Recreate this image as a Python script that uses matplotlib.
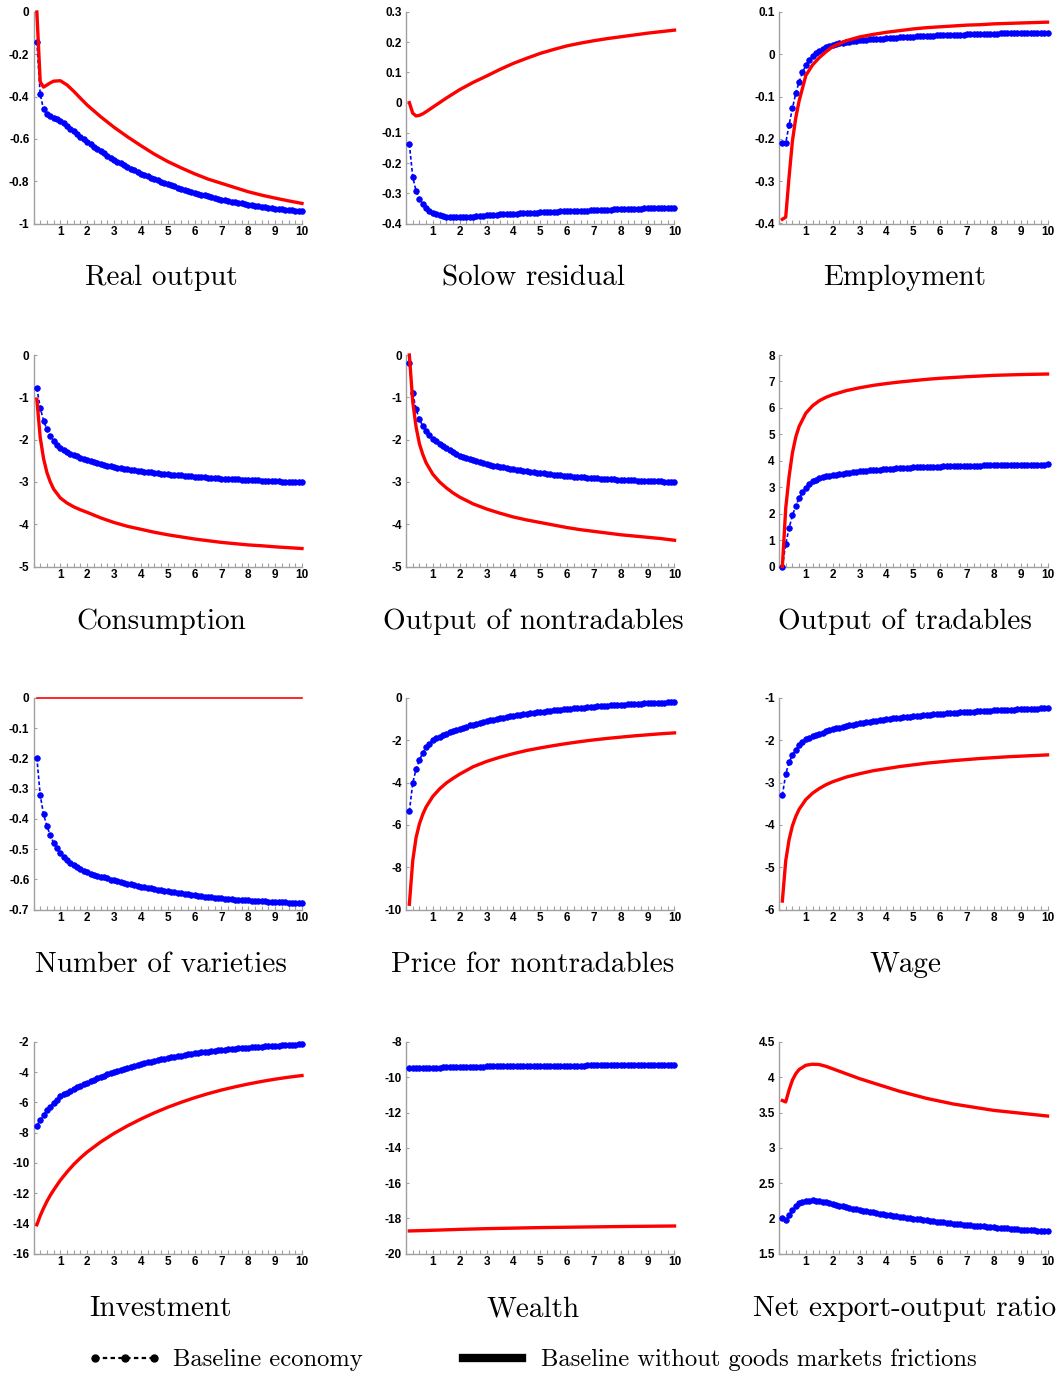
import numpy as np
import matplotlib
matplotlib.use("Agg")
import matplotlib.pyplot as plt
from matplotlib.lines import Line2D
from matplotlib.ticker import FixedLocator, MultipleLocator, FuncFormatter

# horizon in years; the baseline is reported every 1/8 year
x_base = np.arange(1, 81) / 8
x_nofric = [0.125, 0.25, 0.375, 0.5, 0.625, 0.75, 1, 1.25, 1.5, 1.75, 2, 2.5, 3, 3.5,
            4, 4.5, 5, 5.5, 6, 6.5, 7, 7.5, 8, 8.5, 9, 9.5, 10]

titles = ["Real output", "Solow residual", "Employment",
          "Consumption", "Output of nontradables", "Output of tradables",
          "Number of varieties", "Price for nontradables", "Wage",
          "Investment", "Wealth", "Net export-output ratio"]

# ---- baseline economy (blue dots) ----
base_output = [-0.14, -0.39, -0.46, -0.48, -0.49, -0.50, -0.507, -0.515,
               -0.527, -0.540, -0.552, -0.565, -0.577, -0.590, -0.602, -0.614,
               -0.626, -0.637, -0.648, -0.658, -0.669, -0.679, -0.690, -0.700,
               -0.708, -0.716, -0.724, -0.733, -0.741, -0.749, -0.757, -0.765,
               -0.771, -0.777, -0.784, -0.790, -0.796, -0.802, -0.809, -0.815,
               -0.820, -0.825, -0.830, -0.835, -0.840, -0.845, -0.850, -0.855,
               -0.859, -0.863, -0.867, -0.871, -0.875, -0.879, -0.883, -0.887,
               -0.890, -0.893, -0.896, -0.899, -0.902, -0.905, -0.909, -0.912,
               -0.914, -0.916, -0.919, -0.921, -0.923, -0.925, -0.928, -0.930,
               -0.932, -0.933, -0.935, -0.936, -0.938, -0.940, -0.941, -0.943]
base_solow = [-0.137, -0.245, -0.293, -0.319, -0.336, -0.349, -0.358, -0.365,
              -0.370, -0.373, -0.376, -0.378, -0.379, -0.380, -0.380, -0.380,
              -0.380, -0.379, -0.378, -0.377, -0.376, -0.375, -0.374, -0.373,
              -0.372, -0.371, -0.371, -0.370, -0.369, -0.369, -0.368, -0.367,
              -0.367, -0.366, -0.366, -0.365, -0.365, -0.364, -0.364, -0.363,
              -0.363, -0.362, -0.362, -0.361, -0.361, -0.360, -0.360, -0.359,
              -0.359, -0.359, -0.358, -0.358, -0.357, -0.357, -0.356, -0.356,
              -0.355, -0.355, -0.355, -0.354, -0.354, -0.353, -0.353, -0.353,
              -0.352, -0.352, -0.352, -0.351, -0.351, -0.351, -0.350, -0.350,
              -0.350, -0.349, -0.349, -0.349, -0.348, -0.348, -0.348, -0.348]
base_employment = [-0.210, -0.210, -0.167, -0.128, -0.092, -0.065, -0.043, -0.026,
                   -0.014, -0.005, 0.002, 0.008, 0.013, 0.017, 0.020, 0.023,
                   0.0245, 0.026, 0.0275, 0.029, 0.030, 0.031, 0.032, 0.033,
                   0.034, 0.0345, 0.035, 0.0355, 0.036, 0.0365, 0.037, 0.038,
                   0.0385, 0.039, 0.0395, 0.040, 0.0405, 0.041, 0.0415, 0.042,
                   0.0424, 0.0428, 0.0431, 0.0435, 0.0439, 0.0443, 0.0446, 0.045,
                   0.0452, 0.0455, 0.0458, 0.046, 0.0462, 0.0465, 0.0468, 0.047,
                   0.0472, 0.0475, 0.0478, 0.048, 0.0482, 0.0485, 0.0488, 0.049,
                   0.0491, 0.0493, 0.0494, 0.0495, 0.0496, 0.0497, 0.0499, 0.050,
                   0.0501, 0.0503, 0.0504, 0.0505, 0.0506, 0.0507, 0.0509, 0.051]
base_consumption = [-0.78, -1.25, -1.55, -1.76, -1.92, -2.04, -2.13, -2.21,
                    -2.255, -2.295, -2.33, -2.365, -2.395, -2.425, -2.455, -2.48,
                    -2.505, -2.53, -2.555, -2.575, -2.595, -2.615, -2.635, -2.655,
                    -2.668, -2.68, -2.692, -2.704, -2.716, -2.728, -2.739, -2.75,
                    -2.759, -2.768, -2.777, -2.786, -2.795, -2.803, -2.811, -2.82,
                    -2.827, -2.834, -2.841, -2.848, -2.855, -2.862, -2.868, -2.875,
                    -2.881, -2.887, -2.892, -2.898, -2.903, -2.909, -2.914, -2.92,
                    -2.924, -2.929, -2.933, -2.938, -2.942, -2.946, -2.951, -2.955,
                    -2.959, -2.963, -2.966, -2.970, -2.974, -2.977, -2.981, -2.985,
                    -2.988, -2.991, -2.994, -2.997, -3.000, -3.003, -3.007, -3.010]
base_nontradables = [-0.20, -0.90, -1.28, -1.52, -1.68, -1.80, -1.90, -1.98,
                     -2.04, -2.10, -2.155, -2.205, -2.25, -2.295, -2.34, -2.38,
                     -2.41, -2.44, -2.465, -2.49, -2.515, -2.54, -2.56, -2.58,
                     -2.597, -2.613, -2.628, -2.643, -2.658, -2.672, -2.686, -2.70,
                     -2.712, -2.724, -2.736, -2.747, -2.758, -2.769, -2.78, -2.79,
                     -2.799, -2.808, -2.817, -2.826, -2.835, -2.843, -2.852, -2.86,
                     -2.867, -2.873, -2.88, -2.886, -2.892, -2.898, -2.904, -2.91,
                     -2.915, -2.92, -2.925, -2.93, -2.935, -2.94, -2.945, -2.95,
                     -2.954, -2.958, -2.962, -2.966, -2.97, -2.973, -2.977, -2.98,
                     -2.983, -2.985, -2.988, -2.99, -2.993, -2.995, -2.998, -3.0]
base_tradables = [0.0, 0.85, 1.45, 1.93, 2.30, 2.58, 2.80, 2.98,
                  3.12, 3.22, 3.29, 3.34, 3.38, 3.41, 3.43, 3.45,
                  3.47, 3.49, 3.51, 3.53, 3.55, 3.565, 3.58, 3.60,
                  3.61, 3.625, 3.635, 3.645, 3.655, 3.665, 3.68, 3.69,
                  3.697, 3.704, 3.711, 3.718, 3.725, 3.731, 3.738, 3.745,
                  3.75, 3.754, 3.759, 3.763, 3.767, 3.771, 3.776, 3.78,
                  3.784, 3.788, 3.792, 3.795, 3.799, 3.802, 3.806, 3.81,
                  3.813, 3.815, 3.818, 3.82, 3.823, 3.825, 3.828, 3.83,
                  3.832, 3.834, 3.836, 3.838, 3.84, 3.842, 3.843, 3.845,
                  3.847, 3.849, 3.851, 3.853, 3.855, 3.857, 3.858, 3.86]
base_varieties = [-0.197, -0.322, -0.385, -0.424, -0.454, -0.480, -0.497, -0.513,
                  -0.526, -0.536, -0.545, -0.553, -0.560, -0.566, -0.572, -0.577,
                  -0.581, -0.585, -0.588, -0.591, -0.594, -0.597, -0.601, -0.604,
                  -0.607, -0.609, -0.612, -0.614, -0.617, -0.619, -0.622, -0.624,
                  -0.626, -0.628, -0.630, -0.632, -0.634, -0.636, -0.638, -0.640,
                  -0.642, -0.643, -0.645, -0.646, -0.648, -0.650, -0.651, -0.653,
                  -0.654, -0.656, -0.657, -0.658, -0.659, -0.661, -0.662, -0.663,
                  -0.664, -0.665, -0.666, -0.667, -0.667, -0.668, -0.669, -0.670,
                  -0.671, -0.671, -0.672, -0.673, -0.673, -0.674, -0.674, -0.675,
                  -0.675, -0.676, -0.676, -0.677, -0.677, -0.678, -0.678, -0.679]
base_price = [-5.36, -4.03, -3.36, -2.94, -2.59, -2.34, -2.16, -2.0,
              -1.91, -1.83, -1.76, -1.69, -1.62, -1.56, -1.50, -1.45,
              -1.40, -1.35, -1.30, -1.26, -1.21, -1.17, -1.12, -1.08,
              -1.05, -1.02, -0.99, -0.96, -0.93, -0.90, -0.87, -0.84,
              -0.82, -0.795, -0.77, -0.75, -0.725, -0.705, -0.68, -0.66,
              -0.642, -0.625, -0.607, -0.59, -0.572, -0.555, -0.537, -0.52,
              -0.506, -0.492, -0.479, -0.465, -0.451, -0.437, -0.424, -0.41,
              -0.399, -0.388, -0.376, -0.365, -0.354, -0.343, -0.331, -0.32,
              -0.311, -0.302, -0.294, -0.285, -0.276, -0.267, -0.259, -0.25,
              -0.243, -0.235, -0.228, -0.22, -0.213, -0.205, -0.198, -0.19]
base_wage = [-3.3, -2.8, -2.52, -2.35, -2.22, -2.12, -2.04, -1.97,
             -1.94, -1.91, -1.88, -1.85, -1.82, -1.79, -1.765, -1.74,
             -1.72, -1.70, -1.68, -1.665, -1.65, -1.635, -1.617, -1.60,
             -1.587, -1.574, -1.562, -1.55, -1.537, -1.525, -1.512, -1.50,
             -1.491, -1.482, -1.474, -1.465, -1.456, -1.447, -1.439, -1.43,
             -1.423, -1.416, -1.409, -1.402, -1.396, -1.389, -1.382, -1.375,
             -1.369, -1.364, -1.358, -1.352, -1.347, -1.341, -1.336, -1.33,
             -1.326, -1.322, -1.317, -1.313, -1.309, -1.304, -1.30, -1.295,
             -1.291, -1.287, -1.284, -1.28, -1.276, -1.272, -1.269, -1.265,
             -1.262, -1.259, -1.256, -1.253, -1.249, -1.246, -1.243, -1.24]
base_investment = [-7.55, -7.15, -6.82, -6.53, -6.27, -6.03, -5.81, -5.60,
                   -5.47, -5.35, -5.23, -5.12, -5.01, -4.90, -4.80, -4.70,
                   -4.60, -4.50, -4.41, -4.32, -4.23, -4.14, -4.06, -3.98,
                   -3.91, -3.84, -3.77, -3.70, -3.64, -3.57, -3.51, -3.45,
                   -3.40, -3.35, -3.30, -3.25, -3.20, -3.15, -3.10, -3.05,
                   -3.01, -2.97, -2.93, -2.90, -2.86, -2.82, -2.79, -2.75,
                   -2.72, -2.69, -2.66, -2.64, -2.61, -2.58, -2.56, -2.53,
                   -2.51, -2.49, -2.47, -2.45, -2.43, -2.41, -2.39, -2.37,
                   -2.355, -2.34, -2.325, -2.31, -2.295, -2.28, -2.265, -2.25,
                   -2.238, -2.225, -2.213, -2.20, -2.188, -2.175, -2.163, -2.15]
base_wealth = [-9.500, -9.495, -9.490, -9.485, -9.480, -9.475, -9.468, -9.460,
               -9.455, -9.450, -9.445, -9.440, -9.435, -9.430, -9.425, -9.420,
               -9.416, -9.412, -9.408, -9.404, -9.400, -9.397, -9.394, -9.390,
               -9.387, -9.385, -9.382, -9.380, -9.378, -9.375, -9.372, -9.370,
               -9.368, -9.365, -9.363, -9.360, -9.358, -9.355, -9.352, -9.350,
               -9.349, -9.347, -9.346, -9.345, -9.344, -9.343, -9.341, -9.340,
               -9.339, -9.337, -9.336, -9.335, -9.334, -9.333, -9.331, -9.330,
               -9.329, -9.327, -9.326, -9.325, -9.324, -9.323, -9.321, -9.320,
               -9.319, -9.317, -9.316, -9.315, -9.314, -9.313, -9.311, -9.310,
               -9.309, -9.307, -9.306, -9.305, -9.304, -9.303, -9.301, -9.300]
base_nx = [2.01, 1.97, 2.05, 2.11, 2.17, 2.21, 2.235, 2.245,
           2.25, 2.252, 2.25, 2.245, 2.237, 2.228, 2.215, 2.20,
           2.19, 2.18, 2.17, 2.158, 2.147, 2.137, 2.126, 2.115,
           2.107, 2.099, 2.091, 2.083, 2.075, 2.067, 2.058, 2.05,
           2.043, 2.036, 2.029, 2.022, 2.016, 2.009, 2.002, 1.995,
           1.989, 1.983, 1.976, 1.970, 1.964, 1.958, 1.951, 1.945,
           1.94, 1.935, 1.93, 1.925, 1.92, 1.915, 1.91, 1.905,
           1.901, 1.896, 1.892, 1.888, 1.883, 1.879, 1.874, 1.87,
           1.866, 1.862, 1.859, 1.855, 1.851, 1.847, 1.844, 1.84,
           1.837, 1.834, 1.831, 1.827, 1.824, 1.821, 1.818, 1.815]

# ---- baseline without goods markets frictions (red line) ----
nofric_output = [0.0, -0.33, -0.355, -0.345, -0.335, -0.327, -0.325, -0.345, -0.375, -0.408,
                 -0.44, -0.495, -0.545, -0.59, -0.632, -0.672, -0.707, -0.737, -0.765,
                 -0.79, -0.81, -0.83, -0.85, -0.866, -0.88, -0.893, -0.905]
nofric_solow = [0.0, -0.035, -0.044, -0.042, -0.037, -0.030, -0.015, 0.0, 0.015, 0.029,
                0.043, 0.067, 0.088, 0.11, 0.13, 0.147, 0.163, 0.176, 0.188, 0.197,
                0.205, 0.212, 0.218, 0.224, 0.23, 0.235, 0.24]
nofric_employment = [-0.390, -0.385, -0.29, -0.205, -0.150, -0.110, -0.050, -0.025, -0.008,
                     0.006, 0.018, 0.032, 0.041, 0.047, 0.052, 0.056, 0.06, 0.063, 0.065,
                     0.067, 0.069, 0.07, 0.072, 0.073, 0.074, 0.075, 0.076]
nofric_consumption = [-1.05, -1.95, -2.45, -2.78, -3.0, -3.17, -3.38, -3.50, -3.59, -3.66,
                      -3.72, -3.85, -3.96, -4.05, -4.12, -4.19, -4.25, -4.30, -4.35, -4.39,
                      -4.43, -4.46, -4.49, -4.51, -4.535, -4.555, -4.575]
nofric_nontradables = [0.0, -1.1, -1.7, -2.1, -2.35, -2.55, -2.82, -3.0, -3.14, -3.26,
                       -3.36, -3.52, -3.64, -3.74, -3.83, -3.9, -3.96, -4.02, -4.08, -4.13,
                       -4.17, -4.21, -4.25, -4.28, -4.31, -4.34, -4.38]
nofric_tradables = [0.0, 2.2, 3.4, 4.3, 4.9, 5.3, 5.8, 6.08, 6.27, 6.40, 6.5, 6.65, 6.76,
                    6.85, 6.92, 6.98, 7.03, 7.08, 7.12, 7.15, 7.18, 7.205, 7.23, 7.245,
                    7.26, 7.27, 7.28]
nofric_varieties = [0.0, 0.0, 0.0, 0.0, 0.0, 0.0, 0.0, 0.0, 0.0, 0.0, 0.0, 0.0, 0.0, 0.0,
                    0.0, 0.0, 0.0, 0.0, 0.0, 0.0, 0.0, 0.0, 0.0, 0.0, 0.0, 0.0, 0.0]
nofric_price = [-9.75, -7.7, -6.6, -5.95, -5.5, -5.15, -4.65, -4.3, -4.02, -3.8, -3.6,
                -3.25, -3.0, -2.8, -2.63, -2.48, -2.36, -2.25, -2.15, -2.06, -1.98,
                -1.91, -1.85, -1.79, -1.74, -1.69, -1.65]
nofric_wage = [-5.8, -4.85, -4.35, -4.02, -3.8, -3.63, -3.4, -3.25, -3.14, -3.05, -2.98,
               -2.87, -2.79, -2.72, -2.67, -2.62, -2.58, -2.54, -2.51, -2.48, -2.455,
               -2.43, -2.41, -2.39, -2.375, -2.36, -2.345]
nofric_investment = [-14.1, -13.5, -13.0, -12.55, -12.15, -11.8, -11.15, -10.6, -10.1, -9.67,
                     -9.28, -8.62, -8.05, -7.55, -7.1, -6.69, -6.32, -5.99, -5.69, -5.42,
                     -5.18, -4.97, -4.78, -4.61, -4.46, -4.33, -4.22]
nofric_wealth = [-18.72, -18.715, -18.71, -18.705, -18.70, -18.695, -18.68, -18.67, -18.655,
                 -18.645, -18.63, -18.61, -18.59, -18.575, -18.56, -18.545, -18.53, -18.52,
                 -18.51, -18.50, -18.49, -18.48, -18.47, -18.462, -18.455, -18.447, -18.44]
nofric_nx = [3.67, 3.65, 3.82, 3.96, 4.05, 4.11, 4.17, 4.185, 4.18, 4.155, 4.12, 4.05, 3.98,
             3.92, 3.86, 3.80, 3.75, 3.70, 3.66, 3.62, 3.59, 3.56, 3.53, 3.51, 3.49, 3.47, 3.45]

# y range and tick step of each panel
ylims = [(-1, 0), (-0.4, 0.3), (-0.4, 0.1),
         (-5, 0), (-5, 0), (0, 8),
         (-0.7, 0), (-10, 0), (-6, -1),
         (-16, -2), (-20, -8), (1.5, 4.5)]
ysteps = [0.2, 0.1, 0.1, 1, 1, 1, 0.1, 2, 1, 2, 2, 0.5]

base_all = [base_output, base_solow, base_employment, base_consumption, base_nontradables,
            base_tradables, base_varieties, base_price, base_wage, base_investment,
            base_wealth, base_nx]
nofric_all = [nofric_output, nofric_solow, nofric_employment, nofric_consumption,
              nofric_nontradables, nofric_tradables, nofric_varieties, nofric_price,
              nofric_wage, nofric_investment, nofric_wealth, nofric_nx]

plt.rcParams['font.family'] = ['Liberation Sans', 'DejaVu Sans']
plt.rcParams['font.weight'] = 'bold'

W, H = 1062, 1376
fig = plt.figure(figsize=(W / 100, H / 100), dpi=100)

lefts = [33.5, 406, 779]
tops = [12, 355, 698, 1042]
aw, ah = 268.5, 211.5
title_x = [161, 533, 905]
title_y = [278, 622, 965, 1309]
spine_col = '#a0a0a0'

fmt = FuncFormatter(lambda v, p: '%g' % round(v, 6))

for i in range(12):
    r, c = divmod(i, 3)
    ax = fig.add_axes([lefts[c] / W, 1 - (tops[r] + ah) / H, aw / W, ah / H])
    ax.plot(x_base, base_all[i], color='#0000ff', ls=(0, (2.2, 1.4)), lw=1.2,
            marker='o', ms=4.0, mec='#0000ff', mew=0.6, clip_on=False, zorder=3)
    lw_red = 1.2 if i == 6 else 2.4
    ax.plot(x_nofric, nofric_all[i], color='#ff0000', lw=lw_red, clip_on=False, zorder=4)

    lo, hi = ylims[i]
    ax.set_xlim(0, 10)
    ax.set_ylim(lo, hi)
    ax.xaxis.set_major_locator(FixedLocator(range(1, 11)))
    ax.xaxis.set_minor_locator(MultipleLocator(0.25))
    ax.yaxis.set_major_locator(MultipleLocator(ysteps[i]))
    ax.yaxis.set_major_formatter(fmt)
    ax.tick_params(axis='x', which='both', direction='in', length=3, width=0.8,
                   color=spine_col, labelsize=8.5, pad=2)
    ax.tick_params(axis='y', which='both', direction='in', length=2, width=0.8,
                   color=spine_col, labelsize=8.5, pad=3)
    for s in ['top', 'right']:
        ax.spines[s].set_visible(False)
    for s in ['left', 'bottom']:
        ax.spines[s].set_color(spine_col)
        ax.spines[s].set_linewidth(1.0)

    fig.text(title_x[c] / W, 1 - title_y[r] / H, titles[i], ha='center', va='center',
             family='cmr10', fontsize=21, fontweight='normal')

handles = [Line2D([], [], color='k', ls=(0, (2, 1.5)), lw=1.6, marker='o', ms=5),
           Line2D([], [], color='k', lw=6)]
fig.legend(handles, ["Baseline economy", "Baseline without goods markets frictions"],
           loc='center', bbox_to_anchor=(532 / W, 1 - 1360 / H), ncol=2, frameon=False,
           prop={'family': 'cmr10', 'size': 17.7, 'weight': 'normal'}, numpoints=3,
           handlelength=3.0, handletextpad=0.45, columnspacing=3.8)

fig.savefig("out.png", dpi=100)
